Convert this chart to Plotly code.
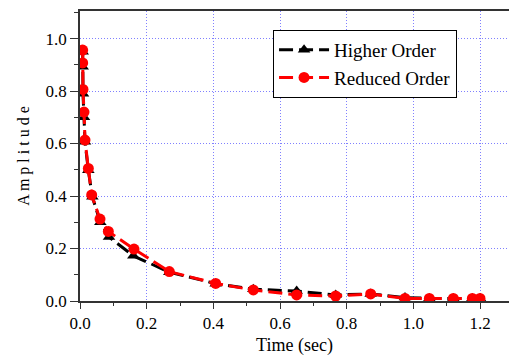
import plotly.graph_objects as go

t_high = [0.008, 0.008, 0.009, 0.012, 0.015, 0.025, 0.037, 0.061, 0.087, 0.160, 0.268, 0.407, 0.520, 0.650, 0.767, 0.872, 0.975, 1.048, 1.120, 1.177, 1.200]
a_high = [0.950, 0.893, 0.790, 0.700, 0.607, 0.498, 0.397, 0.300, 0.244, 0.172, 0.110, 0.066, 0.045, 0.038, 0.023, 0.027, 0.013, 0.010, 0.010, 0.010, 0.010]

t_red = [0.008, 0.008, 0.009, 0.012, 0.015, 0.025, 0.035, 0.060, 0.085, 0.162, 0.268, 0.407, 0.520, 0.650, 0.767, 0.872, 0.975, 1.048, 1.120, 1.177, 1.200]
a_red = [0.956, 0.907, 0.806, 0.720, 0.613, 0.505, 0.404, 0.312, 0.265, 0.198, 0.112, 0.067, 0.042, 0.023, 0.019, 0.027, 0.010, 0.010, 0.010, 0.010, 0.010]

FONT = "Liberation Serif"

fig = go.Figure()
fig.add_trace(go.Scatter(
    x=t_high, y=a_high, mode="lines+markers", name="Higher Order",
    line=dict(color="black", width=3, dash="14px,6px"),
    marker=dict(symbol="triangle-up", size=11, color="black"),
))
fig.add_trace(go.Scatter(
    x=t_red, y=a_red, mode="lines+markers", name="Reduced Order",
    line=dict(color="red", width=3, dash="14px,6px"),
    marker=dict(symbol="circle", size=11, color="red"),
))

grid = dict(showgrid=True, gridcolor="#8080ff", gridwidth=1, griddash="1px,2px")

fig.update_layout(
    width=509, height=356,
    margin=dict(l=80, r=0, t=11, b=55, autoexpand=False),
    paper_bgcolor="white", plot_bgcolor="white",
    font=dict(family=FONT, size=17, color="black"),
    showlegend=True,
    legend=dict(
        x=0.45, y=0.935, xanchor="left", yanchor="top",
        bordercolor="black", borderwidth=1, bgcolor="white",
        font=dict(family=FONT, size=19, color="black"),
        itemwidth=50, tracegroupgap=0,
    ),
    xaxis=dict(
        range=[0, 1.287], tickmode="linear", tick0=0, dtick=0.2, tickformat=".1f",
        ticks="outside", ticklen=6, tickcolor="#333", tickwidth=1.2,
        minor=dict(dtick=0.1, ticks="outside", ticklen=3, tickcolor="#333", showgrid=False),
        showline=True, linecolor="#333", linewidth=1.5, mirror=True,
        zeroline=False, automargin=False,
        title=dict(text="Time (sec)", font=dict(family=FONT, size=18), standoff=8),
        **grid,
    ),
    yaxis=dict(
        range=[0, 1.105], tickmode="linear", tick0=0, dtick=0.2, tickformat=".1f",
        ticks="outside", ticklen=8, tickcolor="#333", tickwidth=1.2,
        minor=dict(dtick=0.1, ticks="outside", ticklen=4, tickcolor="#333", showgrid=False),
        showline=True, linecolor="#333", linewidth=1.5,
        zeroline=False, automargin=False,
        title=dict(text="A m p l i t u d e", font=dict(family=FONT, size=16), standoff=12),
        **grid,
    ),
)

fig.write_html(
    "out.html",
    config={"displayModeBar": False},
    post_script="document.body.style.margin='0';document.body.style.overflow='hidden';",
)
